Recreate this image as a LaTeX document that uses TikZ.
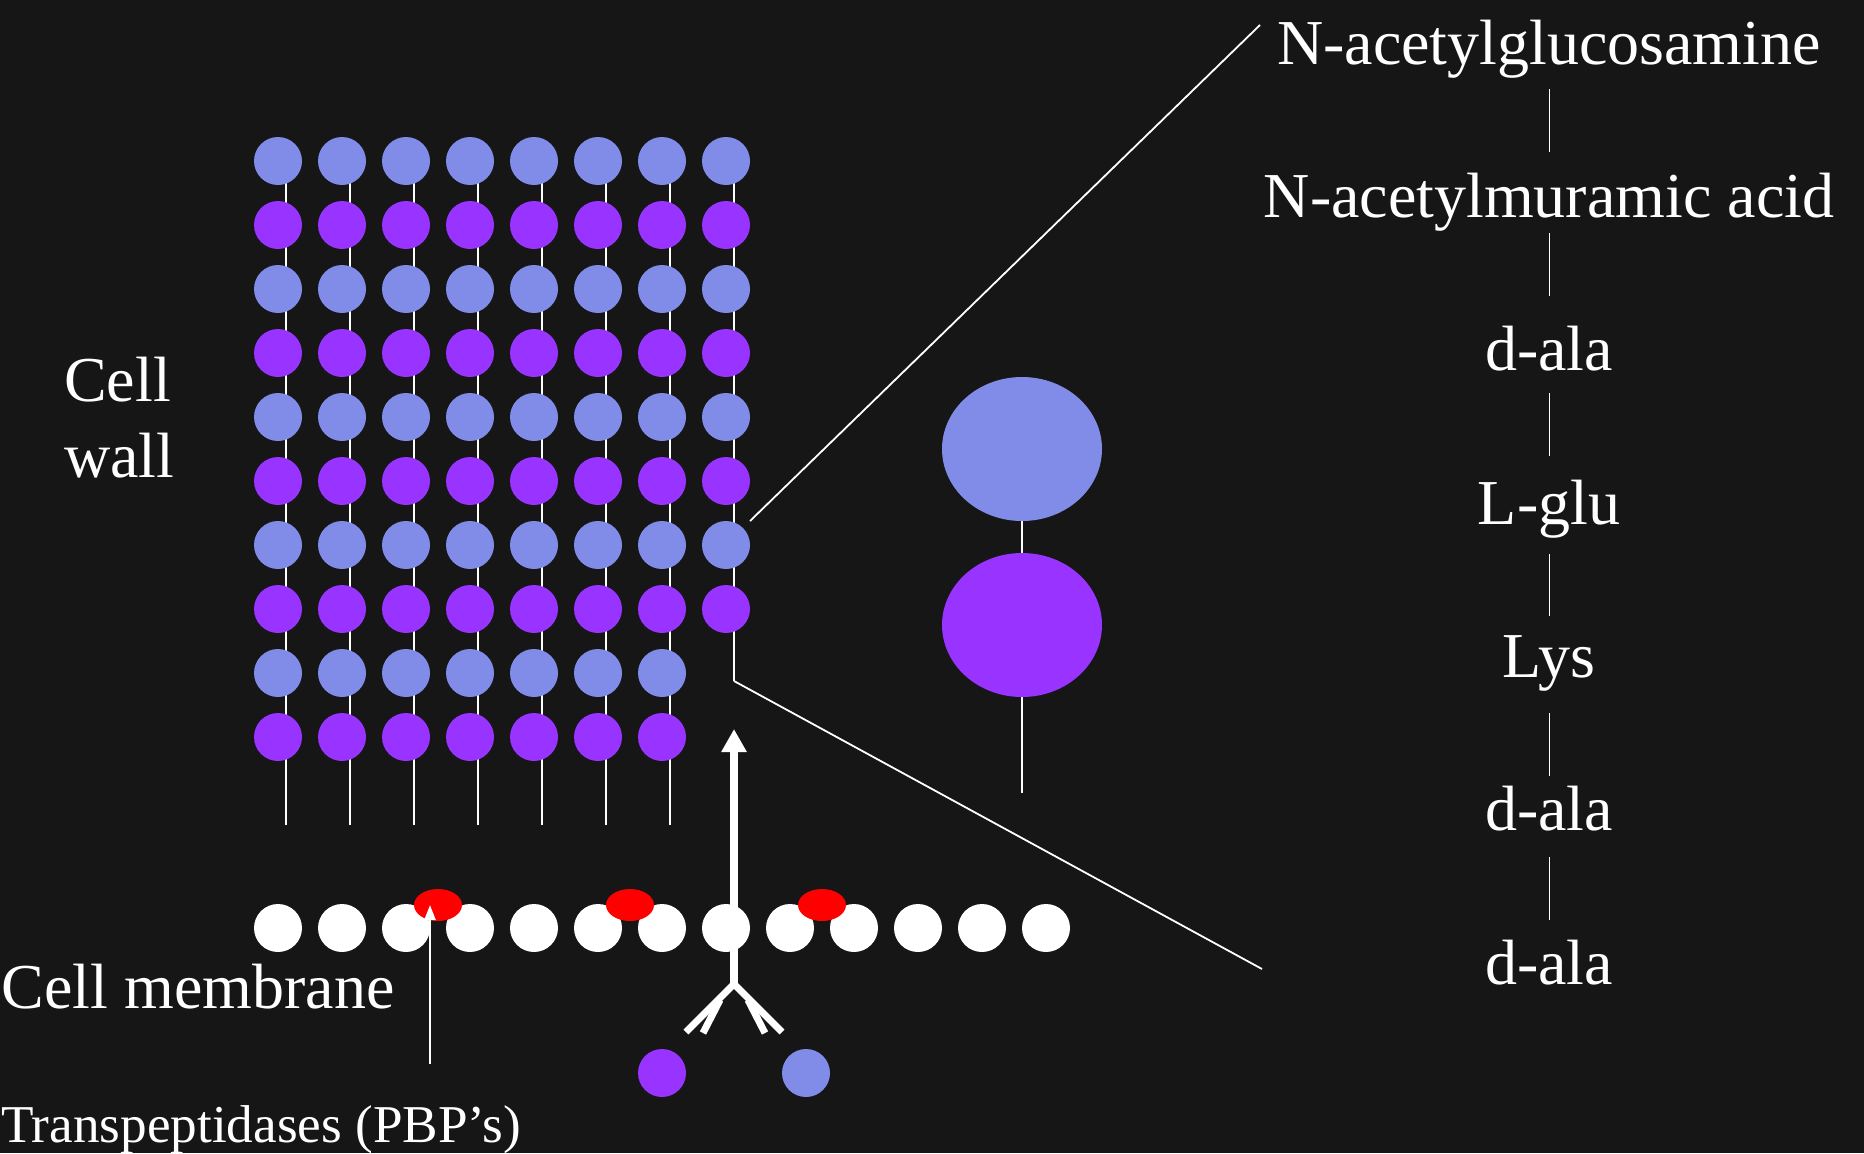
\documentclass[tikz,border=0pt]{standalone}
\usepackage{fontspec}
\setmainfont{Liberation Serif}
\usetikzlibrary{arrows.meta,shapes.geometric}
\definecolor{bg}{RGB}{22,22,22}
\definecolor{nag}{RGB}{128,140,232}
\definecolor{nam}{RGB}{153,51,255}
\definecolor{pbpred}{RGB}{255,0,0}
\begin{document}
\begin{tikzpicture}[x=1pt,y=-1pt,
  sugar/.style={circle,inner sep=0pt,minimum size=48pt},
  nagC/.style={sugar,fill=nag},
  namC/.style={sugar,fill=nam},
  lipid/.style={sugar,fill=white},
  pbp/.style={ellipse,inner sep=0pt,minimum width=48pt,minimum height=32pt,fill=pbpred},
  bigsugar/.style={ellipse,inner sep=0pt,minimum width=160pt,minimum height=144pt},
  chain/.style={draw=white,line width=2.2pt},
  thinline/.style={draw=white,line width=1.8pt},
  lbl/.style={text=white,inner sep=0pt,font=\fontsize{64}{76}\selectfont},
  smalllbl/.style={text=white,inner sep=0pt,font=\fontsize{53.2}{62}\selectfont},
]
% background
\fill[bg] (0,0) rectangle (1864,1153);

% ---- peptidoglycan lattice: glycan strands behind the sugars
\foreach \i in {0,...,6}
  \draw[chain] (286+64*\i,161) -- (286+64*\i,825);
\coordinate (kink) at (734,681);
\coordinate (zoomLo) at (1262,969);
\coordinate (zoomTop) at (750,521);
\coordinate (zoomHi) at (1260,25);
\draw[chain] (734,161) -- (kink);
\draw[thinline] (kink) -- (zoomLo);
\draw[thinline] (zoomTop) -- (zoomHi);

% sugars: NAG (even rows) and NAM (odd rows)
\foreach \i in {0,...,6}{
  \foreach \j in {0,2,4,6,8}
    \node[nagC] (w-\i-\j) at (278+64*\i,161+64*\j) {};
  \foreach \j in {1,3,5,7,9}
    \node[namC] (w-\i-\j) at (278+64*\i,161+64*\j) {};
}
\foreach \j in {0,2,4,6}
  \node[nagC] (w-7-\j) at (726,161+64*\j) {};
\foreach \j in {1,3,5,7}
  \node[namC] (w-7-\j) at (726,161+64*\j) {};

% ---- cell membrane
\foreach \k in {0,...,12}
  \node[lipid] (m-\k) at (278+64*\k,928) {};
\node[pbp] (p1) at (438,905) {};
\node[pbp] (p2) at (630,905) {};
\node[pbp] (p3) at (822,905) {};

% transpeptidase pointer
\coordinate (tp) at (430,1064);
\draw[white,line width=2.4pt,-{Triangle[width=11pt,length=15pt]}] (tp) -- (tp |- p1.center);

% precursor transport arrow with forked tail
\coordinate (fork) at (734,984);
\coordinate (slot) at (734,729);
\draw[white,line width=7.5pt,-{Triangle[width=24pt,length=23pt]}] (fork) -- (slot);
\draw[white,line width=7pt,line join=miter] (686,1032) -- (fork) -- (782,1032);
\draw[white,line width=7pt] (720,1000) -- (703,1033);
\draw[white,line width=7pt] (748,1000) -- (765,1033);
\node[namC] (fp) at (662,1073) {};
\node[nagC] (fb) at (806,1073) {};

% ---- enlarged disaccharide unit
\draw[white,line width=2pt] (1022,449) -- (1022,793);
\node[bigsugar,fill=nag] (bigA) at (1022,449) {};
\node[bigsugar,fill=nam] (bigB) at (1022,625) {};

% ---- labels
\node[lbl,anchor=base west,align=left] (wall) at (64,477) {Cell\\wall};
\node[lbl,anchor=base west] (memb) at (1.5,1008) {Cell membrane};
\node[smalllbl,anchor=base west] (tpl) at (1,1142) {Transpeptidases (PBP’s)};

% ---- monomer composition
\node[lbl,anchor=base] (c1) at (1549,64) {N-acetylglucosamine};
\node[lbl,anchor=base] (c2) at (1549,217.3) {N-acetylmuramic acid};
\node[lbl,anchor=base] (c3) at (1549,370.6) {d-ala};
\node[lbl,anchor=base] (c4) at (1549,524) {L-glu};
\node[lbl,anchor=base] (c5) at (1549,677.3) {Lys};
\node[lbl,anchor=base] (c6) at (1549,830.6) {d-ala};
\node[lbl,anchor=base] (c7) at (1549,984) {d-ala};
\foreach \a/\b in {89/152,233/296,393/456,554/616,713/776,857/920}
  \draw[thinline] (1549.5,\a) -- (1549.5,\b);
\end{tikzpicture}
\end{document}
